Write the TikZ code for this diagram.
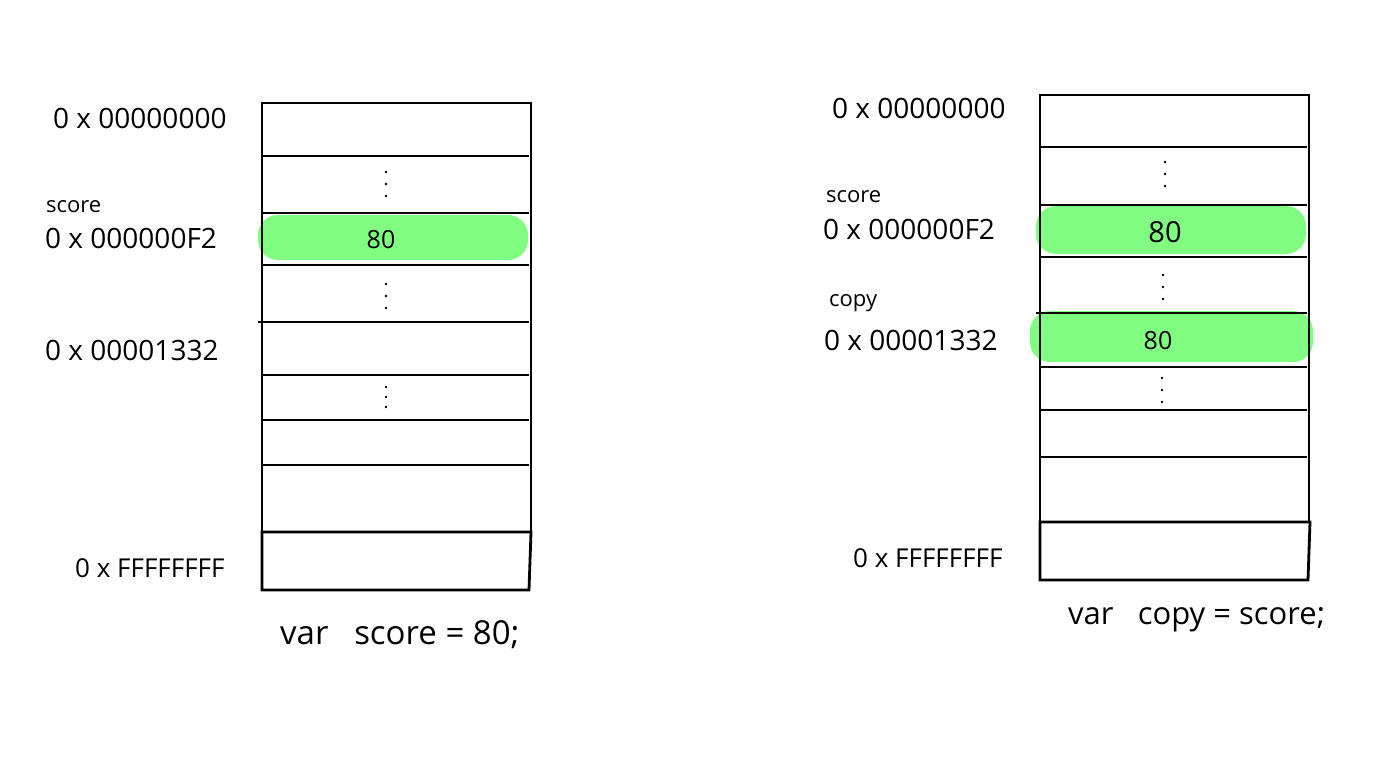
\documentclass[tikz,border=0pt]{standalone}
\usepackage{fontspec}
\setmainfont{Open Sans}
\definecolor{hl}{RGB}{128,252,128}
\begin{document}
\begin{tikzpicture}[x=1pt,y=-1pt,
  cell/.style={line width=1.8pt},
  thick box/.style={line width=2.8pt},
  band/.style={fill=hl,draw=none,rounded corners=20pt},
  addr/.style={font=\fontsize{28}{32}\selectfont,anchor=west,inner sep=0pt},
  ffaddr/.style={font=\fontsize{26}{30}\selectfont,anchor=west,inner sep=0pt},
  var/.style={font=\fontsize{22}{26}\selectfont,anchor=west,inner sep=0pt},
  val/.style={font=\fontsize{25}{29}\selectfont,inner sep=0pt},
  code/.style={font=\fontsize{33}{38}\selectfont,anchor=west,inner sep=0pt},
  dot/.style={fill=black}]
\useasboundingbox (0,0) rectangle (1379,757);
% ---------- left memory ----------
\fill[band] (258,215) rectangle (528,260);
\draw[cell] (262,103) rectangle (531,532);
\foreach \y in {156,213,265,375,420,465} \draw[cell] (262,\y) -- (529,\y);
\draw[cell] (258,322) -- (529,322);
\draw[thick box] (262,532) -- (531,532) -- (529,590) -- (262,590) -- cycle;
\foreach \c in {172,184,196, 284,296,308, 387,397,407} \fill[dot] (386,\c) circle (1.4);
\node[val] (v1) at (381,240) {80};
\node[addr] (a1) at (53,118) {0 x 00000000};
\node[var] (s1) at (46,207) {score};
\node[addr] (a2) at (45,238) {0 x 000000F2};
\node[addr] (a3) at (45,350) {0 x 00001332};
\node[ffaddr] (a4) at (75,568) {0 x FFFFFFFF};
\node[code] (c1) at (280,635) {var\ \ \ score = 80;};
% ---------- right memory ----------
\fill[band] (1036,206) rectangle (1306,254);
\fill[band] (1030,311) rectangle (1313,362);
\draw[cell] (1040,95) rectangle (1309,522);
\foreach \y in {147,205,257,367,410,457} \draw[cell] (1040,\y) -- (1307,\y);
\draw[cell] (1036,313) -- (1307,313);
\draw[thick box] (1040,522) -- (1310,522) -- (1308,580) -- (1040,580) -- cycle;
\foreach \c in {162,174,186} \fill[dot] (1165,\c) circle (1.4);
\foreach \c in {275,287,299} \fill[dot] (1163,\c) circle (1.4);
\foreach \c in {378,390,402} \fill[dot] (1162,\c) circle (1.4);
\node[val,font=\fontsize{29}{33}\selectfont] (v2) at (1165,232) {80};
\node[val] (v3) at (1158,341) {80};
\node[addr] (b1) at (832,108) {0 x 00000000};
\node[var] (s2) at (826,197) {score};
\node[addr] (b2) at (823,229) {0 x 000000F2};
\node[var] (s3) at (829,303) {copy};
\node[addr] (b3) at (824,340) {0 x 00001332};
\node[ffaddr] (b4) at (853,558) {0 x FFFFFFFF};
\node[code,font=\fontsize{31}{36}\selectfont] (c2) at (1068,620) {var\ \ \ copy = score;};
\end{tikzpicture}
\end{document}
